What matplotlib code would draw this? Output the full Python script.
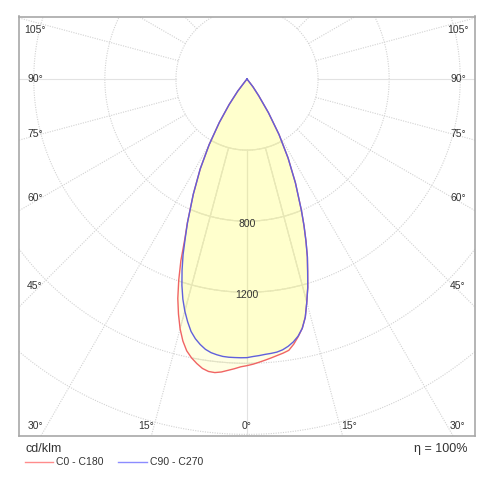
import numpy as np
import matplotlib.pyplot as plt
from matplotlib.lines import Line2D

plt.rcParams['font.family'] = ['Liberation Sans', 'DejaVu Sans']

# vertical angle (deg) and luminous intensity (cd/klm) per C-plane
gamma = [0, 1.25, 2.5, 3.75, 5, 6.25, 7.5, 8.75, 10, 11.25, 12.5, 13.75, 15, 16.25,
         17.5, 18.75, 20, 21.25, 22.5, 25, 27.5, 30, 32.5, 35, 37.5, 40, 42.5, 45]
c0   = [1613, 1605, 1595, 1585, 1575, 1565, 1556, 1545, 1515, 1478, 1437, 1380, 1300, 1222,
        1135, 1057, 970, 885, 800, 645, 500, 360, 225, 115, 55, 2, 0, 0]
c180 = [1613, 1620, 1632, 1643, 1655, 1662, 1660, 1648, 1626, 1600, 1567, 1518, 1455, 1378,
        1295, 1195, 1088, 965, 878, 715, 570, 425, 290, 175, 85, 10, 0, 0]
c90  = [1563, 1562, 1558, 1553, 1550, 1546, 1537, 1522, 1502, 1475, 1437, 1380, 1300, 1222,
        1135, 1057, 970, 885, 800, 645, 500, 360, 225, 115, 55, 2, 0, 0]
c270 = [1568, 1569, 1569, 1569, 1567, 1561, 1553, 1539, 1517, 1490, 1455, 1406, 1352, 1290,
        1218, 1137, 1052, 958, 875, 715, 570, 425, 290, 175, 85, 10, 0, 0]

grid_r = [400, 800, 1200, 1600, 2000, 2400]
label_r = [800, 1200]
side_labels = ['105°', '90°', '75°', '60°', '45°']
bottom_labels = ['30°', '15°', '0°', '15°', '30°']


def curve(left, right):
    g = np.radians(gamma)
    l = np.array(left, dtype=float)
    r = np.array(right, dtype=float)
    x = np.concatenate([-l[::-1] * np.sin(g[::-1]), r[1:] * np.sin(g[1:])])
    y = np.concatenate([-l[::-1] * np.cos(g[::-1]), -r[1:] * np.cos(g[1:])])
    return x, y


W = 492.0
fig = plt.figure(figsize=(4.92, 4.92), dpi=100)
ax = fig.add_axes([19 / W, 56 / W, 456 / W, 419.5 / W])
ax.set_xlim(-1283, 1283)
ax.set_ylim(-2009, 352)
ax.set_xticks([])
ax.set_yticks([])
for s in ax.spines.values():
    s.set_color('#a8a8a8')
    s.set_linewidth(1.2)

xr, yr = curve(c180, c0)
xb, yb = curve(c270, c90)

# fills
pr = ax.fill(xr, yr, color='#ffff80', alpha=0.22, lw=0, zorder=2)[0]
pb = ax.fill(xb, yb, color='#ffff80', alpha=0.22, lw=0, zorder=2)[0]

# grid: dotted outside, solid inside the light distribution
t = np.linspace(0, 2 * np.pi, 400)
angles = np.radians(np.arange(0, 360, 15))
for clip in [None, pr, pb]:
    ls = (0, (1, 1.2)) if clip is None else '-'
    col = '#d2d2d2' if clip is None else '#dadada'
    for r in grid_r:
        ln, = ax.plot(r * np.cos(t), r * np.sin(t), color=col, lw=0.8, ls=ls, zorder=1)
        if clip is not None:
            ln.set_clip_path(clip)
    for a in angles:
        deg = np.degrees(a) % 90
        st = '-' if (clip is not None or deg == 0) else ls
        c = '#e2e2e2' if (clip is None and deg == 0) else col
        xs = np.array([400, 3000]) * np.sin(a)
        ys = -np.array([400, 3000]) * np.cos(a)
        ln, = ax.plot(xs, ys, color=c, lw=0.8, ls=st, zorder=1)
        if clip is not None:
            ln.set_clip_path(clip)

# curves
ax.plot(xr, yr, color='#f06464', lw=1.0, zorder=3)
ax.plot(xb, yb, color='#6060dc', lw=1.0, zorder=4)

for r in label_r:
    ax.text(0, -r - 18, str(r), ha='center', va='center', fontsize=7.5,
            color='#333333', zorder=5)


def ftext(x, y, s, **kw):
    fig.text(x / W, 1 - y / W, s, **kw)


side_y = [30, 79, 134, 198, 286]
for lab, y in zip(side_labels, side_y):
    ftext(35, y, lab, ha='center', va='center', fontsize=7.5, color='#333333')
    ftext(458, y, lab, ha='center', va='center', fontsize=7.5, color='#333333')
bottom_x = [35, 146, 247, 349, 457]
for lab, x in zip(bottom_labels, bottom_x):
    ftext(x, 426, lab, ha='center', va='center', fontsize=7.5, color='#333333')

ftext(25, 449, 'cd/klm', ha='left', va='center', fontsize=9, color='#333333')
ftext(467, 449, 'η = 100%', ha='right', va='center', fontsize=9, color='#333333')

fig.add_artist(Line2D([25 / W, 53 / W], [1 - 462 / W, 1 - 462 / W], color='#ff8c8c', lw=1))
ftext(56, 462, 'C0 - C180', ha='left', va='center', fontsize=7.5, color='#333333')
fig.add_artist(Line2D([118 / W, 147 / W], [1 - 462 / W, 1 - 462 / W], color='#8c8cff', lw=1))
ftext(150, 462, 'C90 - C270', ha='left', va='center', fontsize=7.5, color='#333333')

fig.savefig('out.png', dpi=100)
